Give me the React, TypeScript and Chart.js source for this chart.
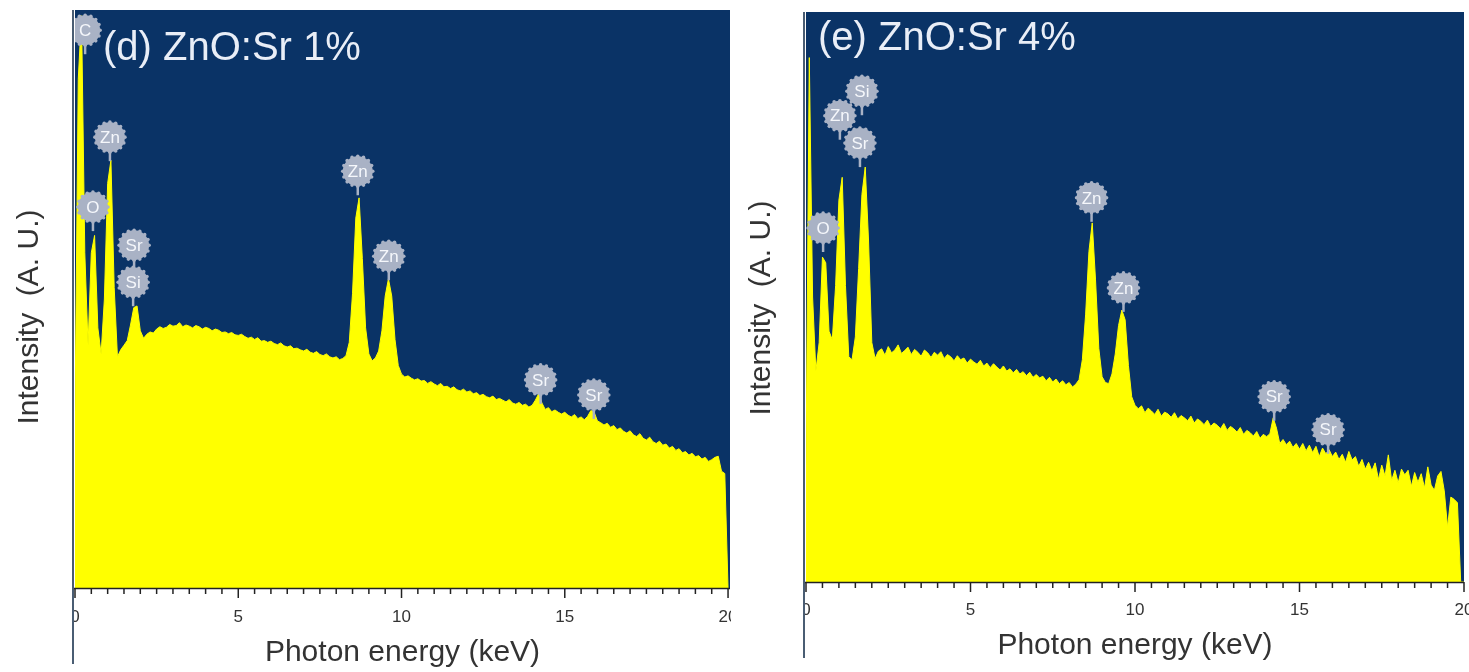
import React, { useEffect, useRef } from 'react';
import { Chart, registerables } from 'chart.js';

Chart.register(...registerables);

// ---------- data ----------
// channel grid of the spectra (keV)
const ENERGY_START = 0;
const ENERGY_STEP = 0.1;

// x axis ticks (keV)
const X_MINOR_STEP = 0.5;
const X_MAJOR_STEP = 5;

// (d) ZnO:Sr 1% — intensity (A. U.) at each 0.1 keV channel, 0.0 … 20.0 keV
const INTENSITY_SR1 = [
  30, 88, 99, 58, 42, 58, 61, 45, 40.5, 50,
  70, 74, 52, 40, 41.2, 42.0, 42.8, 45.5, 48.5, 48.8,
  44.5, 43.2, 43.9, 44.3, 44.1, 44.8, 45.2, 44.9, 45.1, 45.6,
  45.3, 45.4, 45.9, 45.2, 45.5, 45.3, 45.0, 45.4, 45.2, 44.8,
  45.1, 44.9, 44.5, 44.8, 44.6, 44.2, 44.3, 44.0, 44.2, 43.8,
  43.7, 43.9, 43.5, 43.2, 43.4, 43.0, 43.3, 42.7, 42.8, 42.5,
  42.7, 42.3, 42.1, 42.4, 41.9, 41.7, 41.9, 41.4, 41.5, 41.2,
  41.0, 41.3, 40.8, 40.6, 40.9, 40.4, 40.2, 40.5, 40.0, 39.8,
  40.0, 39.5, 39.7, 40.2, 42.5, 51, 64, 67.5, 57, 45,
  40.5, 39.3, 39.8, 41.0, 44.5, 50.5, 53.5, 50.5, 43.0, 38.5,
  37.0, 36.5, 36.7, 36.3, 36.0, 36.2, 35.8, 35.9, 35.4, 35.7,
  35.3, 35.0, 35.4, 34.8, 34.9, 34.5, 34.8, 34.3, 34.1, 34.4,
  33.9, 34.1, 33.6, 33.8, 33.3, 33.5, 33.1, 32.9, 33.2, 32.6,
  32.8, 32.5, 32.2, 32.6, 32.0, 31.8, 32.1, 31.6, 31.8, 31.3,
  31.6, 32.5, 33.6, 32.0, 30.9, 31.2, 30.5, 30.8, 30.4, 30.1,
  30.4, 29.9, 29.6, 30.0, 29.3, 29.6, 29.1, 29.7, 30.7, 30.4,
  28.9, 28.6, 28.2, 28.5, 27.8, 28.1, 27.4, 27.7, 27.1, 26.8,
  27.2, 26.5, 26.2, 26.7, 25.9, 25.6, 26.1, 25.3, 25.0, 25.4,
  24.7, 24.9, 24.2, 24.5, 23.8, 24.1, 23.4, 23.6, 23.0, 23.3,
  22.7, 22.9, 22.3, 22.6, 21.9, 22.2, 22.6, 22.8, 20.2, 19.8,
  0,
];

// (e) ZnO:Sr 4% — intensity (A. U.) at each 0.1 keV channel, 0.0 … 20.0 keV
const INTENSITY_SR4 = [
  20, 92, 50, 37, 42, 57, 56, 44, 42.5, 52,
  67, 71, 52, 39.5, 39, 43, 55, 68, 72.8, 60,
  42, 39.2, 40.5, 40.9, 39.8, 41.3, 40.2, 40.7, 41.6, 40.1,
  40.6, 41.2, 39.9, 40.8, 40.3, 39.6, 40.7, 40.2, 39.4, 40.3,
  39.8, 40.4, 39.2, 39.9, 39.5, 38.8, 39.7, 39.0, 39.3, 38.4,
  39.1, 38.6, 38.2, 38.9, 37.9, 38.4, 37.6, 38.3, 37.7, 37.2,
  37.9, 37.0, 37.4, 36.7, 37.3, 36.5, 36.9, 36.2, 36.8, 35.9,
  36.4, 35.8, 36.1, 35.3, 35.9, 35.1, 35.6, 34.8, 35.3, 34.6,
  35.0, 34.2, 34.7, 35.5, 39, 47, 58, 63, 53, 41,
  36, 35, 34.8, 36.5, 40, 45, 47.7, 46, 38, 32.5,
  31, 30.4, 30.9, 29.7, 30.5, 30.0, 29.4, 30.3, 29.1, 29.8,
  29.5, 28.9, 29.7, 28.6, 29.2, 28.8, 28.3, 29.1, 27.9, 28.6,
  28.2, 27.6, 28.4, 27.3, 27.9, 27.5, 26.9, 27.8, 26.6, 27.3,
  26.9, 26.3, 27.1, 25.9, 26.6, 26.2, 25.6, 26.4, 25.2, 25.9,
  25.5, 26.0, 28.8, 27.0, 24.3, 25.0, 24.1, 24.7, 23.6, 24.3,
  23.3, 24.3, 23.0, 24.0, 22.7, 23.8, 22.0, 23.5, 22.5, 23.2,
  22.0, 22.8, 21.5, 22.4, 21.0, 22.9, 21.4, 22.0, 20.3, 21.5,
  19.8, 21.0, 19.5, 20.9, 18.0, 20.5, 18.6, 22.3, 17.8, 19.6,
  17.4, 19.8, 18.8, 19.6, 16.8, 19.2, 17.5, 19.0, 16.5, 20.2,
  17.0, 16.1, 18.6, 19.4, 16.0, 9.6, 14.9, 14.5, 13.9, 0,
  0,
];

// element markers: name, energy (keV), marker level (A. U.)
const MARK_SR1_ELEMENT = ['C', 'Zn', 'O', 'Sr', 'Si', 'Zn', 'Zn', 'Sr', 'Sr'];
const MARK_SR1_ENERGY = [0.31, 1.07, 0.55, 1.81, 1.78, 8.66, 9.61, 14.26, 15.89];
const MARK_SR1_LEVEL = [96.5, 78.0, 65.9, 59.3, 52.9, 72.1, 57.4, 36.0, 33.4];

const MARK_SR4_ELEMENT = ['Si', 'Zn', 'Sr', 'O', 'Zn', 'Zn', 'Sr', 'Sr'];
const MARK_SR4_ENERGY = [1.70, 1.03, 1.64, 0.52, 8.68, 9.65, 14.23, 15.87];
const MARK_SR4_LEVEL = [86.1, 81.8, 77.0, 62.1, 67.4, 51.6, 32.5, 26.7];

const TITLE_SR1 = '(d) ZnO:Sr 1%';
const TITLE_SR4 = '(e) ZnO:Sr 4%';
const X_TITLE = 'Photon energy (keV)';
const Y_TITLE = 'Intensity  (A. U.)';

// ---------- styles ----------
const FONT = '"Liberation Sans", Arial, Helvetica, sans-serif';
const NAVY = '#0a3366';
const YELLOW = '#ffff00';
const BUBBLE = '#a9b2c5';
const TEXT = '#333333';

type PanelProps = {
  left: number;
  width: number;
  yAxisWidth: number;
  padTop: number;
  padRight: number;
  xAxisHeight: number;
  xMax: number;
  values: number[];
  elements: string[];
  energies: number[];
  levels: number[];
  title: string;
  titleDx: number;
  titleBaseline: number;
  yTitleX: number;
  yTitleDy: number;
  xTitleDy: number;
  tickPad: number;
};

function drawBubble(ctx: CanvasRenderingContext2D, x: number, y: number, text: string) {
  const r = 15;
  ctx.save();
  ctx.fillStyle = BUBBLE;
  ctx.strokeStyle = BUBBLE;
  ctx.lineWidth = 2.5;
  ctx.beginPath();
  ctx.moveTo(x, y + r - 2);
  ctx.lineTo(x, y + r + 9);
  ctx.stroke();
  ctx.beginPath();
  ctx.arc(x, y, r, 0, Math.PI * 2);
  ctx.fill();
  const n = 16;
  for (let k = 0; k < n; k++) {
    const a = (k / n) * Math.PI * 2;
    ctx.beginPath();
    ctx.arc(x + Math.cos(a) * r, y + Math.sin(a) * r, 1.8, 0, Math.PI * 2);
    ctx.fill();
  }
  ctx.fillStyle = '#f5f7fb';
  ctx.font = `17px ${FONT}`;
  ctx.textAlign = 'center';
  ctx.textBaseline = 'middle';
  ctx.fillText(text, x, y + 1);
  ctx.restore();
}

function Panel(p: PanelProps) {
  const ref = useRef<HTMLCanvasElement | null>(null);

  useEffect(() => {
    const canvas = ref.current;
    if (!canvas) return;
    const points = p.values.map((v, i) => ({ x: ENERGY_START + i * ENERGY_STEP, y: v }));

    const panelPlugin = {
      id: 'panelDecor',
      beforeDatasetsDraw(chart: any) {
        const { ctx, chartArea: a } = chart;
        ctx.save();
        ctx.fillStyle = NAVY;
        ctx.fillRect(a.left, a.top, a.right - a.left, a.bottom - a.top);
        ctx.restore();
      },
      afterDatasetsDraw(chart: any) {
        const { ctx, chartArea: a, scales } = chart;
        ctx.save();
        ctx.beginPath();
        ctx.rect(a.left, a.top, a.right - a.left, a.bottom - a.top);
        ctx.clip();
        for (let i = 0; i < p.elements.length; i++) {
          const x = scales.x.getPixelForValue(p.energies[i]);
          const y = scales.y.getPixelForValue(p.levels[i]);
          drawBubble(ctx, x, y, p.elements[i]);
        }
        ctx.fillStyle = '#e9eef7';
        ctx.font = `40px ${FONT}`;
        ctx.textAlign = 'left';
        ctx.textBaseline = 'alphabetic';
        ctx.fillText(p.title, a.left + p.titleDx, p.titleBaseline);
        ctx.restore();
      },
      afterDraw(chart: any) {
        const { ctx, chartArea: a, scales } = chart;
        ctx.save();
        // tick marks
        ctx.strokeStyle = '#222';
        ctx.lineWidth = 1.5;
        for (const t of scales.x.ticks) {
          const px = scales.x.getPixelForValue(t.value);
          const major = Math.abs(t.value / X_MAJOR_STEP - Math.round(t.value / X_MAJOR_STEP)) < 1e-6;
          ctx.beginPath();
          ctx.moveTo(px, a.bottom);
          ctx.lineTo(px, a.bottom + (major ? 10 : 6));
          ctx.stroke();
        }
        // bottom axis line
        ctx.beginPath();
        ctx.moveTo(a.left - 2, a.bottom + 0.5);
        ctx.lineTo(a.right, a.bottom + 0.5);
        ctx.stroke();
        // left border line (extends below the plot)
        ctx.fillStyle = '#ffffff';
        ctx.fillRect(a.left - 16, a.bottom + 12, 14, 40);
        ctx.strokeStyle = '#4a5d73';
        ctx.lineWidth = 2;
        ctx.beginPath();
        ctx.moveTo(a.left - 2, a.top);
        ctx.lineTo(a.left - 2, a.bottom + 76);
        ctx.stroke();
        // axis titles
        ctx.fillStyle = TEXT;
        ctx.font = `30px ${FONT}`;
        ctx.textAlign = 'center';
        ctx.textBaseline = 'middle';
        ctx.fillText(X_TITLE, (a.left + a.right) / 2, a.bottom + p.xTitleDy);
        ctx.translate(p.yTitleX, (a.top + a.bottom) / 2 + p.yTitleDy);
        ctx.rotate(-Math.PI / 2);
        ctx.fillText(Y_TITLE, 0, 0);
        ctx.restore();
      },
    };

    const chart = new Chart(canvas, {
      type: 'line',
      data: {
        datasets: [
          {
            data: points,
            fill: 'origin',
            backgroundColor: YELLOW,
            borderColor: YELLOW,
            borderWidth: 1,
            pointRadius: 0,
            tension: 0,
          },
        ],
      },
      options: {
        animation: false,
        responsive: false,
        maintainAspectRatio: false,
        events: [],
        layout: { padding: { top: p.padTop, right: p.padRight, left: 0, bottom: 0 } },
        plugins: {
          legend: { display: false },
          tooltip: { enabled: false },
          title: { display: false },
        },
        scales: {
          x: {
            type: 'linear',
            min: 0,
            max: p.xMax,
            grid: { display: false, drawTicks: false },
            border: { display: false },
            ticks: {
              stepSize: X_MINOR_STEP,
              autoSkip: false,
              maxRotation: 0,
              includeBounds: false,
              padding: p.tickPad,
              color: TEXT,
              font: { family: FONT, size: 17 },
              callback: (v: any) => {
                const n = Number(v);
                return Math.abs(n / X_MAJOR_STEP - Math.round(n / X_MAJOR_STEP)) < 1e-6 ? String(Math.round(n)) : '';
              },
            },
            afterFit: (s: any) => {
              s.height = p.xAxisHeight;
              s.paddingLeft = 0;
              s.paddingRight = 0;
            },
          },
          y: {
            min: 0,
            max: 100,
            grid: { display: false, drawTicks: false },
            border: { display: false },
            ticks: { display: false },
            afterFit: (s: any) => {
              s.width = p.yAxisWidth;
            },
          },
        },
      } as any,
      plugins: [panelPlugin],
    });
    return () => chart.destroy();
  }, []);

  return (
    <canvas
      ref={ref}
      width={p.width}
      height={672}
      style={{ position: 'absolute', left: p.left, top: 0, width: p.width, height: 672 }}
    />
  );
}

export default function App() {
  useEffect(() => {
    document.body.style.margin = '0';
  }, []);
  return (
    <div style={{ position: 'relative', width: 1469, height: 672, background: '#ffffff', overflow: 'hidden' }}>
      <Panel
        left={0}
        width={731}
        yAxisWidth={75}
        padTop={10}
        padRight={1}
        xAxisHeight={84}
        xMax={20.06}
        values={INTENSITY_SR1}
        elements={MARK_SR1_ELEMENT}
        energies={MARK_SR1_ENERGY}
        levels={MARK_SR1_LEVEL}
        title={TITLE_SR1}
        titleDx={28}
        titleBaseline={60}
        yTitleX={30}
        yTitleDy={18}
        xTitleDy={65}
        tickPad={19}
      />
      <Panel
        left={731}
        width={738}
        yAxisWidth={75}
        padTop={12}
        padRight={5}
        xAxisHeight={90}
        xMax={20}
        values={INTENSITY_SR4}
        elements={MARK_SR4_ELEMENT}
        energies={MARK_SR4_ENERGY}
        levels={MARK_SR4_LEVEL}
        title={TITLE_SR4}
        titleDx={12}
        titleBaseline={49.5}
        yTitleX={31}
        yTitleDy={11}
        xTitleDy={64}
        tickPad={18}
      />
    </div>
  );
}
